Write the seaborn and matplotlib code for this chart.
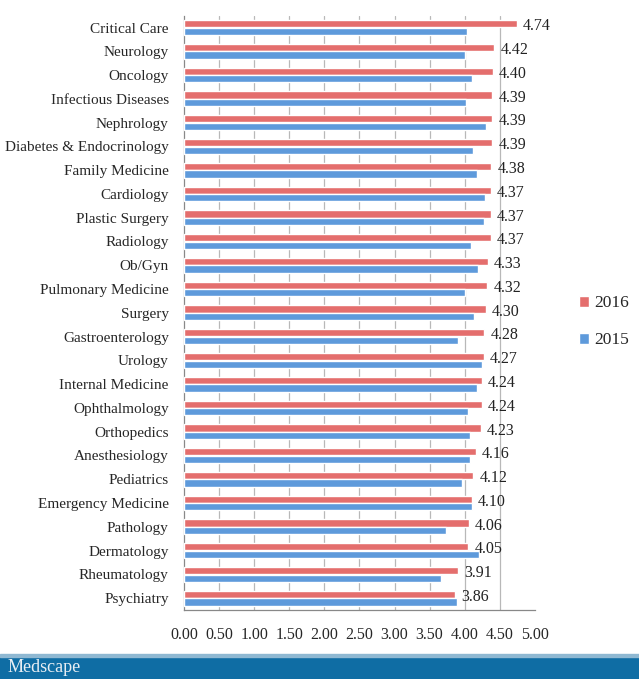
import matplotlib
matplotlib.use("Agg")
import matplotlib.pyplot as plt
import seaborn as sns
import pandas as pd
import numpy as np
from matplotlib.patches import Rectangle

specialties = ["Critical Care", "Neurology", "Oncology", "Infectious Diseases", "Nephrology",
               "Diabetes & Endocrinology", "Family Medicine", "Cardiology", "Plastic Surgery",
               "Radiology", "Ob/Gyn", "Pulmonary Medicine", "Surgery", "Gastroenterology",
               "Urology", "Internal Medicine", "Ophthalmology", "Orthopedics", "Anesthesiology",
               "Pediatrics", "Emergency Medicine", "Pathology", "Dermatology", "Rheumatology",
               "Psychiatry"]
values_2016 = [4.74, 4.42, 4.40, 4.39, 4.39, 4.39, 4.38, 4.37, 4.37, 4.37, 4.33, 4.32, 4.30,
               4.28, 4.27, 4.24, 4.24, 4.23, 4.16, 4.12, 4.10, 4.06, 4.05, 3.91, 3.86]
values_2015 = [4.03, 4.00, 4.10, 4.02, 4.30, 4.12, 4.17, 4.29, 4.28, 4.09, 4.19, 4.01, 4.13,
               3.91, 4.24, 4.17, 4.05, 4.08, 4.08, 3.96, 4.10, 3.74, 4.21, 3.66, 3.89]
series = ["2016", "2015"]
xticks = [0.0, 0.5, 1.0, 1.5, 2.0, 2.5, 3.0, 3.5, 4.0, 4.5, 5.0]

df = pd.DataFrame({
    "Specialty": specialties * 2,
    "Value": values_2016 + values_2015,
    "Year": [series[0]] * len(specialties) + [series[1]] * len(specialties),
})

sns.set_theme(style="white")
plt.rcParams["font.family"] = ["Liberation Serif", "DejaVu Serif"]

fig = plt.figure(figsize=(6.39, 6.79), dpi=100)
ax = fig.add_axes([0.288, 0.1016, 0.549, 0.8754])

palette = {"2016": "#E46E6D", "2015": "#5E9ADB"}
sns.barplot(data=df, y="Specialty", x="Value", hue="Year", hue_order=series,
            order=specialties, palette=palette, orient="h", width=0.64, gap=0.05,
            saturation=1, ax=ax, legend=True, zorder=3)

ax.set_xlim(0, 5.0)
ax.set_ylim(len(specialties) - 0.5, -0.5)
ax.set_xticks(xticks)
ax.set_xticklabels([f"{t:.2f}" for t in xticks], fontsize=11.5)
ax.set_xlabel("")
ax.set_ylabel("")
ax.tick_params(axis="y", length=0, labelsize=11, pad=11)
ax.set_yticks(np.arange(len(specialties)) + 0.5, minor=True)
ax.tick_params(axis="y", which="minor", length=4, color="#888888", direction="out")
ax.tick_params(axis="x", length=4, color="#888888", direction="inout", pad=10)

for t in xticks[1:-1]:
    ax.axvline(t, color="#b8b8b8", lw=0.9, zorder=1)

for s in ["top", "right"]:
    ax.spines[s].set_visible(False)
for s in ["left", "bottom"]:
    ax.spines[s].set_color("#888888")
    ax.spines[s].set_linewidth(0.9)

# value labels on 2016 bars
for i, v in enumerate(values_2016):
    ax.annotate(f"{v:.2f}", xy=(v, i - 0.05), xytext=(4.5, 0), textcoords="offset points",
                va="center", ha="left", fontsize=11.5, color="#222222", zorder=5)

leg = ax.legend(loc="center left", bbox_to_anchor=(1.08, 0.485), frameon=False,
                fontsize=12.5, handlelength=0.6, handleheight=0.6, handletextpad=0.3,
                labelspacing=1.2)

# footer band
fig.patches.append(Rectangle((0, 0), 1, 22 / 679, transform=fig.transFigure,
                             color="#0F6DA4", zorder=0))
fig.patches.append(Rectangle((0, 22 / 679), 1, 3 / 679, transform=fig.transFigure,
                             color="#8FB8D2", zorder=0))
fig.text(0.012, 11 / 679, "Medscape", color="#E8EEF3", fontsize=13, va="center",
         ha="left", family=["Liberation Serif", "DejaVu Serif"])

fig.savefig("out.png", dpi=100)
